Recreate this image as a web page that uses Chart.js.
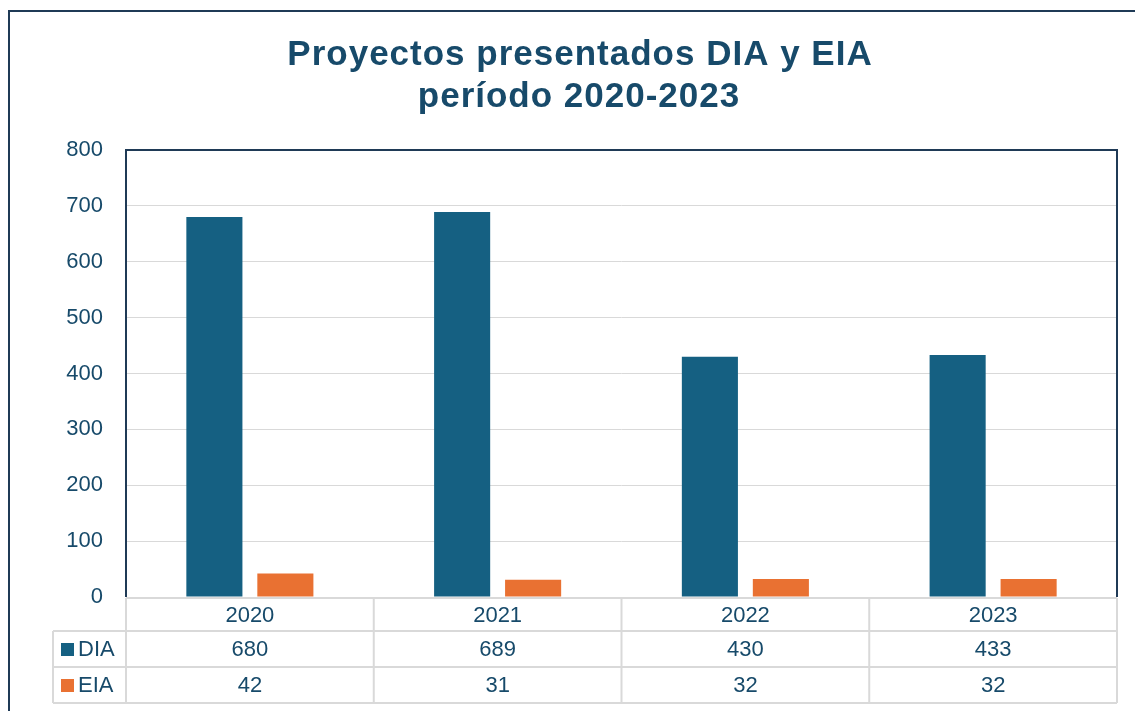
<!DOCTYPE html>
<html>
<head>
<meta charset="utf-8">
<script src="https://cdn.jsdelivr.net/npm/chart.js@4"></script>
<style>
  html, body { margin: 0; padding: 0; background: #fff; }
  #wrap { width: 1135px; height: 711px; }
</style>
</head>
<body>
<div id="wrap"><canvas id="chart" width="1135" height="711"></canvas></div>
<script>
const years = ['2020', '2021', '2022', '2023'];
const diaValues = [680, 689, 430, 433];
const eiaValues = [42, 31, 32, 32];
const seriesNames = ['DIA', 'EIA'];
const seriesColors = ['#156082', '#E97132'];
const titleLines = ['Proyectos presentados DIA y EIA', 'período 2020-2023'];

const textColor = '#174a6a';
const navy = '#1f3a56';
const gridColor = '#d9d9d9';
const fontFamily = '"Liberation Sans", Arial, sans-serif';

// outer frame, title and plot frame
const framePlugin = {
  id: 'frames',
  beforeDraw(chart) {
    const c = chart.ctx;
    c.save();
    c.fillStyle = '#fff';
    c.fillRect(0, 0, chart.width, chart.height);
    c.strokeStyle = navy;
    c.lineWidth = 2;
    c.strokeRect(9, 11, 1300, 900);

    // title, a little wider than plain text
    c.fillStyle = textColor;
    c.font = 'bold 35px ' + fontFamily;
    c.letterSpacing = '1px';
    c.textAlign = 'center';
    c.textBaseline = 'alphabetic';
    c.fillText(titleLines[0], 580, 65);
    c.fillText(titleLines[1], 579, 107);
    c.restore();
  },
  afterDatasetsDraw(chart) {
    const a = chart.chartArea;
    const c = chart.ctx;
    c.save();
    c.strokeStyle = navy;
    c.lineWidth = 2;
    c.beginPath();
    c.moveTo(a.left, a.bottom);
    c.lineTo(a.left, a.top);
    c.lineTo(a.right, a.top);
    c.lineTo(a.right, a.bottom);
    c.stroke();
    c.restore();
  }
};

// data table under the x axis
const tablePlugin = {
  id: 'dataTable',
  afterDraw(chart) {
    const c = chart.ctx;
    const x = chart.scales.x;
    const a = chart.chartArea;
    const rowH = [33, 36, 36];
    const legendLeft = 53;
    const top = a.bottom + 1;
    const rows = [top, top + rowH[0], top + rowH[0] + rowH[1], top + rowH[0] + rowH[1] + rowH[2]];
    const edges = [a.left];
    years.forEach((y, i) => edges.push(a.left + (a.right - a.left) * (i + 1) / years.length));

    c.save();
    c.strokeStyle = gridColor;
    c.lineWidth = 2;
    c.beginPath();
    c.moveTo(a.left, rows[0]); c.lineTo(a.right, rows[0]);
    for (let r = 1; r < rows.length; r++) {
      c.moveTo(legendLeft, rows[r]); c.lineTo(a.right, rows[r]);
    }
    edges.forEach(e => { c.moveTo(e, rows[0]); c.lineTo(e, rows[3]); });
    c.moveTo(legendLeft, rows[1]); c.lineTo(legendLeft, rows[3]);
    c.stroke();

    c.fillStyle = textColor;
    c.font = '22px ' + fontFamily;
    c.textAlign = 'center';
    c.textBaseline = 'middle';
    years.forEach((y, i) => {
      const cx = x.getPixelForValue(i);
      c.fillText(y, cx, (rows[0] + rows[1]) / 2 + 1);
      c.fillText(String(diaValues[i]), cx, (rows[1] + rows[2]) / 2 + 1);
      c.fillText(String(eiaValues[i]), cx, (rows[2] + rows[3]) / 2 + 1);
    });

    // legend keys
    c.textAlign = 'left';
    seriesNames.forEach((name, i) => {
      const cy = (rows[i + 1] + rows[i + 2]) / 2;
      c.fillStyle = seriesColors[i];
      c.fillRect(61, cy - 6, 13, 13);
      c.fillStyle = textColor;
      c.fillText(name, 78, cy + 1);
    });
    c.restore();
  }
};

new Chart(document.getElementById('chart'), {
  type: 'bar',
  data: {
    labels: years,
    datasets: [
      { label: seriesNames[0], data: diaValues, backgroundColor: seriesColors[0] },
      { label: seriesNames[1], data: eiaValues, backgroundColor: seriesColors[1] }
    ]
  },
  options: {
    responsive: false,
    animation: false,
    layout: { padding: { left: 0, right: 18, top: 150, bottom: 0 } },
    datasets: {
      bar: { categoryPercentage: 0.573, barPercentage: 0.79 }
    },
    plugins: {
      legend: { display: false },
      tooltip: { enabled: false },
      title: { display: false }
    },
    scales: {
      x: {
        grid: { display: false, drawTicks: false },
        border: { display: false },
        ticks: { display: false },
        afterFit(scale) { scale.height = 114; }
      },
      y: {
        min: 0,
        max: 800,
        ticks: {
          stepSize: 100,
          color: textColor,
          padding: 23,
          font: { family: fontFamily, size: 22 }
        },
        grid: { color: gridColor, lineWidth: 1, drawTicks: false },
        border: { display: false },
        afterFit(scale) { scale.width = 126; }
      }
    }
  },
  plugins: [framePlugin, tablePlugin]
});
</script>
</body>
</html>
